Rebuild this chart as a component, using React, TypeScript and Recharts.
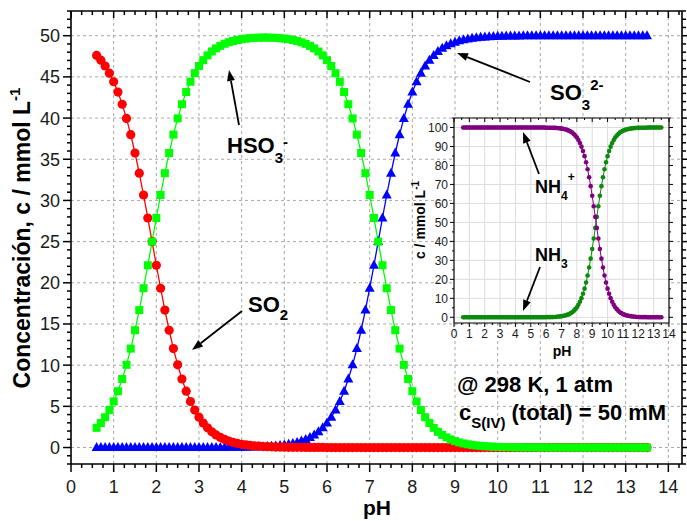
import React from 'react';
import { LineChart, Line, XAxis, YAxis, CartesianGrid } from 'recharts';

const FONT = '"Liberation Sans", Arial, Helvetica, sans-serif';

// pH grid shared by every series (step 0.1)
const pH = [
  0.6, 0.7, 0.8, 0.9, 1.0, 1.1, 1.2, 1.3, 1.4, 1.5,
  1.6, 1.7, 1.8, 1.9, 2.0, 2.1, 2.2, 2.3, 2.4, 2.5,
  2.6, 2.7, 2.8, 2.9, 3.0, 3.1, 3.2, 3.3, 3.4, 3.5,
  3.6, 3.7, 3.8, 3.9, 4.0, 4.1, 4.2, 4.3, 4.4, 4.5,
  4.6, 4.7, 4.8, 4.9, 5.0, 5.1, 5.2, 5.3, 5.4, 5.5,
  5.6, 5.7, 5.8, 5.9, 6.0, 6.1, 6.2, 6.3, 6.4, 6.5,
  6.6, 6.7, 6.8, 6.9, 7.0, 7.1, 7.2, 7.3, 7.4, 7.5,
  7.6, 7.7, 7.8, 7.9, 8.0, 8.1, 8.2, 8.3, 8.4, 8.5,
  8.6, 8.7, 8.8, 8.9, 9.0, 9.1, 9.2, 9.3, 9.4, 9.5,
  9.6, 9.7, 9.8, 9.9, 10.0, 10.1, 10.2, 10.3, 10.4, 10.5,
  10.6, 10.7, 10.8, 10.9, 11.0, 11.1, 11.2, 11.3, 11.4, 11.5,
  11.6, 11.7, 11.8, 11.9, 12.0, 12.1, 12.2, 12.3, 12.4, 12.5,
  12.6, 12.7, 12.8, 12.9, 13.0, 13.1, 13.2, 13.3, 13.4, 13.5,
];

// mmol/L
const so2 = [
  47.61, 47.03, 46.32, 45.45, 44.41, 43.16, 41.68, 39.96, 37.99, 35.76,
  33.31, 30.66, 27.87, 25.0, 22.13, 19.34, 16.69, 14.24, 12.01, 10.04,
  8.32, 6.84, 5.59, 4.55, 3.68, 2.97, 2.39, 1.91, 1.53, 1.23,
  0.98, 0.78, 0.62, 0.5, 0.39, 0.31, 0.25, 0.2, 0.16, 0.12,
  0.1, 0.08, 0.06, 0.05, 0.04, 0.03, 0.02, 0.02, 0.02, 0.01,
  0.01, 0.01, 0.01, 0.01, 0, 0, 0, 0, 0, 0,
  0, 0, 0, 0, 0, 0, 0, 0, 0, 0,
  0, 0, 0, 0, 0, 0, 0, 0, 0, 0,
  0, 0, 0, 0, 0, 0, 0, 0, 0, 0,
  0, 0, 0, 0, 0, 0, 0, 0, 0, 0,
  0, 0, 0, 0, 0, 0, 0, 0, 0, 0,
  0, 0, 0, 0, 0, 0, 0, 0, 0, 0,
  0, 0, 0, 0, 0, 0, 0, 0, 0, 0,
];

const hso3 = [
  2.39, 2.97, 3.68, 4.55, 5.59, 6.84, 8.32, 10.04, 12.01, 14.24,
  16.69, 19.34, 22.13, 25.0, 27.87, 30.66, 33.31, 35.76, 37.99, 39.96,
  41.68, 43.16, 44.41, 45.45, 46.32, 47.03, 47.61, 48.09, 48.47, 48.77,
  49.02, 49.21, 49.36, 49.48, 49.58, 49.65, 49.7, 49.74, 49.76, 49.78,
  49.78, 49.76, 49.74, 49.7, 49.65, 49.57, 49.48, 49.36, 49.2, 49.01,
  48.77, 48.46, 48.08, 47.61, 47.03, 46.32, 45.45, 44.41, 43.16, 41.68,
  39.96, 37.99, 35.76, 33.31, 30.66, 27.87, 25.0, 22.13, 19.34, 16.69,
  14.24, 12.01, 10.04, 8.32, 6.84, 5.59, 4.55, 3.68, 2.97, 2.39,
  1.91, 1.53, 1.23, 0.98, 0.78, 0.62, 0.5, 0.4, 0.31, 0.25,
  0.2, 0.16, 0.13, 0.1, 0.08, 0.06, 0.05, 0.04, 0.03, 0.03,
  0.02, 0.02, 0.01, 0.01, 0.01, 0.01, 0.01, 0, 0, 0,
  0, 0, 0, 0, 0, 0, 0, 0, 0, 0,
  0, 0, 0, 0, 0, 0, 0, 0, 0, 0,
];

const so3 = [
  0, 0, 0, 0, 0, 0, 0, 0, 0, 0,
  0, 0, 0, 0, 0, 0, 0, 0, 0, 0,
  0, 0, 0, 0, 0, 0, 0, 0, 0, 0.01,
  0.01, 0.02, 0.02, 0.02, 0.03, 0.04, 0.05, 0.06, 0.08, 0.1,
  0.13, 0.16, 0.2, 0.25, 0.31, 0.39, 0.5, 0.62, 0.78, 0.98,
  1.23, 1.53, 1.91, 2.39, 2.97, 3.68, 4.55, 5.59, 6.84, 8.32,
  10.04, 12.01, 14.24, 16.69, 19.34, 22.13, 25.0, 27.87, 30.66, 33.31,
  35.76, 37.99, 39.96, 41.68, 43.16, 44.41, 45.45, 46.32, 47.03, 47.61,
  48.09, 48.47, 48.77, 49.02, 49.22, 49.38, 49.5, 49.6, 49.69, 49.75,
  49.8, 49.84, 49.87, 49.9, 49.92, 49.94, 49.95, 49.96, 49.97, 49.97,
  49.98, 49.98, 49.99, 49.99, 49.99, 49.99, 49.99, 50, 50, 50,
  50, 50, 50, 50, 50, 50, 50, 50, 50, 50,
  50, 50, 50, 50, 50, 50, 50, 50, 50, 50,
];

// inset, mmol/L
const nh4 = [
  100, 100, 100, 100, 100, 100, 100, 100, 100, 100,
  100, 100, 100, 100, 100, 100, 100, 100, 100, 100,
  100, 100, 100, 100, 100, 100, 100, 100, 100, 100,
  100, 100, 100, 100, 100, 100, 100, 100, 100, 100,
  100, 100, 100, 100, 100, 100, 100, 100, 100, 100,
  100, 100, 100, 100, 99.9, 99.9, 99.9, 99.9, 99.9, 99.8,
  99.8, 99.7, 99.6, 99.6, 99.4, 99.3, 99.1, 98.9, 98.6, 98.3,
  97.8, 97.3, 96.6, 95.7, 94.7, 93.4, 91.8, 89.9, 87.6, 84.9,
  81.7, 78.0, 73.8, 69.1, 64.0, 58.5, 52.9, 47.1, 41.5, 36.0,
  30.9, 26.2, 22.0, 18.3, 15.1, 12.4, 10.1, 8.2, 6.6, 5.3,
  4.3, 3.4, 2.7, 2.2, 1.7, 1.4, 1.1, 0.9, 0.7, 0.6,
  0.4, 0.4, 0.3, 0.2, 0.2, 0.1, 0.1, 0.1, 0.1, 0.1,
  0, 0, 0, 0, 0, 0, 0, 0, 0, 0,
];

const nh3 = [
  0, 0, 0, 0, 0, 0, 0, 0, 0, 0,
  0, 0, 0, 0, 0, 0, 0, 0, 0, 0,
  0, 0, 0, 0, 0, 0, 0, 0, 0, 0,
  0, 0, 0, 0, 0, 0, 0, 0, 0, 0,
  0, 0, 0, 0, 0, 0, 0, 0, 0, 0,
  0, 0, 0, 0, 0.1, 0.1, 0.1, 0.1, 0.1, 0.2,
  0.2, 0.3, 0.4, 0.4, 0.6, 0.7, 0.9, 1.1, 1.4, 1.7,
  2.2, 2.7, 3.4, 4.3, 5.3, 6.6, 8.2, 10.1, 12.4, 15.1,
  18.3, 22.0, 26.2, 30.9, 36.0, 41.5, 47.1, 52.9, 58.5, 64.0,
  69.1, 73.8, 78.0, 81.7, 84.9, 87.6, 89.9, 91.8, 93.4, 94.7,
  95.7, 96.6, 97.3, 97.8, 98.3, 98.6, 98.9, 99.1, 99.3, 99.4,
  99.6, 99.6, 99.7, 99.8, 99.8, 99.9, 99.9, 99.9, 99.9, 99.9,
  100, 100, 100, 100, 100, 100, 100, 100, 100, 100,
];

const range = (a: number, b: number, s: number) => {
  const out: number[] = [];
  for (let v = a; v <= b + 1e-9; v += s) out.push(+v.toFixed(3));
  return out;
};

const mainXTicks = range(0, 14.25, 0.25);
const mainYTicks = range(-2, 53, 1);
const mainXGrid = range(1, 14, 1);
const mainYGrid = range(0, 50, 5);

const insetXTicks = range(0, 14, 0.5);
const insetYTicks = range(0, 105, 5);
const insetXGrid = range(1, 13, 1);
const insetYGrid = range(0, 100, 10);

const rows = pH.map((p, i) => ({
  pH: p, so2: so2[i], hso3: hso3[i], so3: so3[i], nh4: nh4[i], nh3: nh3[i],
}));

const isMajor = (v: number, step: number) => Math.abs(v / step - Math.round(v / step)) < 1e-6;

type TickOpts = {
  side: 'bottom' | 'top' | 'left' | 'right';
  step: number;
  major: number;
  minor: number;
  sw: number;
  fontSize?: number;
  gap?: number;
  show?: (v: number) => boolean;
};

const makeTick = (o: TickOpts) => (props: any) => {
  const { x, y, payload, index } = props;
  const v = Number(payload.value);
  const maj = isMajor(v, o.step);
  const len = maj ? o.major : o.minor;
  let line;
  if (o.side === 'bottom' || o.side === 'top') line = <line x1={x} x2={x} y1={y} y2={y + len} stroke="#000" strokeWidth={o.sw} />;
  else if (o.side === 'left') line = <line x1={x} x2={x - len} y1={y} y2={y} stroke="#000" strokeWidth={o.sw} />;
  else line = <line x1={x} x2={x + len} y1={y} y2={y} stroke="#000" strokeWidth={o.sw} />;
  let label = null;
  if (o.fontSize && maj && (!o.show || o.show(v))) {
    if (o.side === 'bottom') {
      label = (
        <text x={x} y={y + (o.gap || 0)} textAnchor="middle" fontSize={o.fontSize} fontFamily={FONT} fill="#1a1a1a">{v}</text>
      );
    } else {
      label = (
        <text x={x - (o.gap || 0)} y={y + o.fontSize * 0.36} textAnchor="end" fontSize={o.fontSize} fontFamily={FONT} fill="#1a1a1a">{v}</text>
      );
    }
  }
  return (
    <g key={`t-${o.side}-${index}`}>
      {line}
      {label}
    </g>
  );
};

const circleDot = (p: any) => <circle key={`c${p.index}`} cx={p.cx} cy={p.cy} r={4.6} fill="#ff0000" />;
const squareDot = (p: any) => <rect key={`s${p.index}`} x={p.cx - 4} y={p.cy - 4} width={8} height={8} fill="#00ff00" />;
const triDot = (p: any) => (
  <polygon key={`t${p.index}`} points={`${p.cx},${p.cy - 5.5} ${p.cx - 5},${p.cy + 3.5} ${p.cx + 5},${p.cy + 3.5}`} fill="#0000ff" />
);
const purpleDot = (p: any) => <circle key={`p${p.index}`} cx={p.cx} cy={p.cy} r={2.3} fill="#800080" />;
const greenDot = (p: any) => <circle key={`g${p.index}`} cx={p.cx} cy={p.cy} r={2.3} fill="#0b8a0b" />;

const Arrow = ({ x1, y1, x2, y2 }: { x1: number; y1: number; x2: number; y2: number }) => {
  const a = Math.atan2(y2 - y1, x2 - x1);
  const L = 11;
  const W = 4;
  const bx = x2 - L * Math.cos(a);
  const by = y2 - L * Math.sin(a);
  const s = Math.sin(a);
  const c = Math.cos(a);
  return (
    <g>
      <line x1={x1} y1={y1} x2={bx} y2={by} stroke="#000" strokeWidth={1.8} />
      <polygon points={`${x2},${y2} ${bx + W * s},${by - W * c} ${bx - W * s},${by + W * c}`} fill="#000" />
    </g>
  );
};

const W = 687;
const H = 521;

export default function App() {
  return (
    <div style={{ position: 'absolute', left: 0, top: 0, width: W, height: H, background: '#fff', fontFamily: FONT }}>
      {/* main chart: plot area 71..682 x 11..464 */}
      <div style={{ position: 'absolute', left: 0, top: 0 }}>
        <LineChart width={W} height={H} data={rows} margin={{ top: 10, right: 4, bottom: 56, left: 70 }}>
          <CartesianGrid stroke="#a8a8a8" strokeDasharray="3 3" verticalValues={mainXGrid} horizontalValues={mainYGrid} />
          <XAxis
            dataKey="pH" type="number" domain={[0, 14.32]} allowDataOverflow ticks={mainXTicks} interval={0}
            height={1} tickSize={0} tickMargin={0} tickLine={false}
            axisLine={{ stroke: '#000', strokeWidth: 1.6 }}
            tick={makeTick({ side: 'bottom', step: 1, major: 8, minor: 4, sw: 1.5, fontSize: 18, gap: 29 })}
          />
          <XAxis
            xAxisId="top" orientation="top" dataKey="pH" type="number" domain={[0, 14.32]} allowDataOverflow ticks={mainXTicks} interval={0}
            height={1} tickSize={0} tickMargin={0} tickLine={false}
            axisLine={{ stroke: '#000', strokeWidth: 1.6 }}
            tick={makeTick({ side: 'top', step: 1, major: 7, minor: 4, sw: 1.5 })}
          />
          <YAxis
            type="number" domain={[-2, 53]} allowDataOverflow ticks={mainYTicks} interval={0}
            width={1} tickSize={0} tickMargin={0} tickLine={false}
            axisLine={{ stroke: '#000', strokeWidth: 1.6 }}
            tick={makeTick({ side: 'left', step: 5, major: 8, minor: 4, sw: 1.5, fontSize: 18, gap: 11, show: (v) => v >= 0 && v <= 50 })}
          />
          <YAxis
            yAxisId="right" orientation="right" type="number" domain={[-2, 53]} allowDataOverflow ticks={mainYTicks} interval={0}
            width={1} tickSize={0} tickMargin={0} tickLine={false}
            axisLine={{ stroke: '#000', strokeWidth: 1.6 }}
            tick={makeTick({ side: 'right', step: 5, major: 7, minor: 4, sw: 1.5 })}
          />
          <Line dataKey="so3" stroke="#0000ff" strokeWidth={1.3} dot={triDot} activeDot={false} isAnimationActive={false} />
          <Line dataKey="so2" stroke="#ff0000" strokeWidth={1.3} dot={circleDot} activeDot={false} isAnimationActive={false} />
          <Line dataKey="hso3" stroke="#00ff00" strokeWidth={1.3} dot={squareDot} activeDot={false} isAnimationActive={false} />
        </LineChart>
      </div>

      {/* inset chart: plot area 454..669 x 118..323 */}
      <div style={{ position: 'absolute', left: 0, top: 0 }}>
        <LineChart width={W} height={H} data={rows} margin={{ top: 117, right: 17, bottom: 197, left: 453 }}>
          <CartesianGrid fill="#fff" fillOpacity={1} stroke="#dcdcdc" verticalValues={insetXGrid} horizontalValues={insetYGrid} />
          <XAxis
            dataKey="pH" type="number" domain={[0, 14]} allowDataOverflow ticks={insetXTicks} interval={0}
            height={1} tickSize={0} tickMargin={0} tickLine={false}
            axisLine={{ stroke: '#000', strokeWidth: 1.2 }}
            tick={makeTick({ side: 'bottom', step: 1, major: 4, minor: 2, sw: 1, fontSize: 12, gap: 15 })}
          />
          <XAxis
            xAxisId="top" orientation="top" dataKey="pH" type="number" domain={[0, 14]} allowDataOverflow ticks={insetXTicks} interval={0}
            height={1} tickSize={0} tickMargin={0} tickLine={false}
            axisLine={{ stroke: '#000', strokeWidth: 1.2 }}
            tick={makeTick({ side: 'top', step: 1, major: 4, minor: 2, sw: 1 })}
          />
          <YAxis
            type="number" domain={[-3, 105]} allowDataOverflow ticks={insetYTicks} interval={0}
            width={1} tickSize={0} tickMargin={0} tickLine={false}
            axisLine={{ stroke: '#000', strokeWidth: 1.2 }}
            tick={makeTick({ side: 'left', step: 10, major: 4, minor: 2, sw: 1, fontSize: 12, gap: 6 })}
          />
          <YAxis
            yAxisId="right" orientation="right" type="number" domain={[-3, 105]} allowDataOverflow ticks={insetYTicks} interval={0}
            width={1} tickSize={0} tickMargin={0} tickLine={false}
            axisLine={{ stroke: '#000', strokeWidth: 1.2 }}
            tick={makeTick({ side: 'right', step: 10, major: 4, minor: 2, sw: 1 })}
          />
          <Line dataKey="nh3" stroke="#0b8a0b" strokeWidth={1} dot={greenDot} activeDot={false} isAnimationActive={false} />
          <Line dataKey="nh4" stroke="#800080" strokeWidth={1} dot={purpleDot} activeDot={false} isAnimationActive={false} />
        </LineChart>
      </div>

      {/* axis titles and annotations */}
      <svg width={W} height={H} style={{ position: 'absolute', left: 0, top: 0, pointerEvents: 'none' }} fontFamily={FONT}>
        <text x={377} y={515} textAnchor="middle" fontSize={21} fontWeight="bold">pH</text>
        <text transform="translate(30,238) rotate(-90)" textAnchor="middle" fontSize={23} fontWeight="bold">
          Concentración, c / mmol L<tspan fontSize={15} dy={-10}>-1</tspan>
        </text>

        <text x={562} y={356} textAnchor="middle" fontSize={14} fontWeight="bold">pH</text>
        <text transform="translate(425,220) rotate(-90)" textAnchor="middle" fontSize={14} fontWeight="bold">
          c / mmol L<tspan fontSize={10} dy={-6}>-1</tspan>
        </text>

        <text x={227} y={153} fontSize={22} fontWeight="bold">
          HSO<tspan fontSize={15} dy={10}>3</tspan><tspan fontSize={15} dy={-16}>-</tspan>
        </text>
        <Arrow x1={239} y1={125} x2={229} y2={70} />

        <text x={248} y={312} fontSize={22} fontWeight="bold">
          SO<tspan fontSize={15} dy={8}>2</tspan>
        </text>
        <Arrow x1={242} y1={311} x2={192} y2={350} />

        <text x={550} y={100} fontSize={22} fontWeight="bold">
          SO<tspan fontSize={15} dy={10}>3</tspan><tspan fontSize={15} dy={-20}>2-</tspan>
        </text>
        <Arrow x1={530} y1={82} x2={457} y2={53} />

        <text x={535} y={193} fontSize={18} fontWeight="bold">
          NH<tspan fontSize={12} dy={7}>4</tspan><tspan fontSize={12} dy={-19}>+</tspan>
        </text>
        <Arrow x1={539} y1={174} x2={523} y2={132} />

        <text x={535} y={261} fontSize={18} fontWeight="bold">
          NH<tspan fontSize={12} dy={7}>3</tspan>
        </text>
        <Arrow x1={540} y1={267} x2={523} y2={311} />

        <text x={457} y={392} fontSize={22} fontWeight="bold">@ 298 K, 1 atm</text>
        <text x={459} y={420} fontSize={22} fontWeight="bold">
          c<tspan fontSize={15} dy={8}>S(IV)</tspan><tspan dy={-8}> (total) = 50 mM</tspan>
        </text>
      </svg>
    </div>
  );
}
